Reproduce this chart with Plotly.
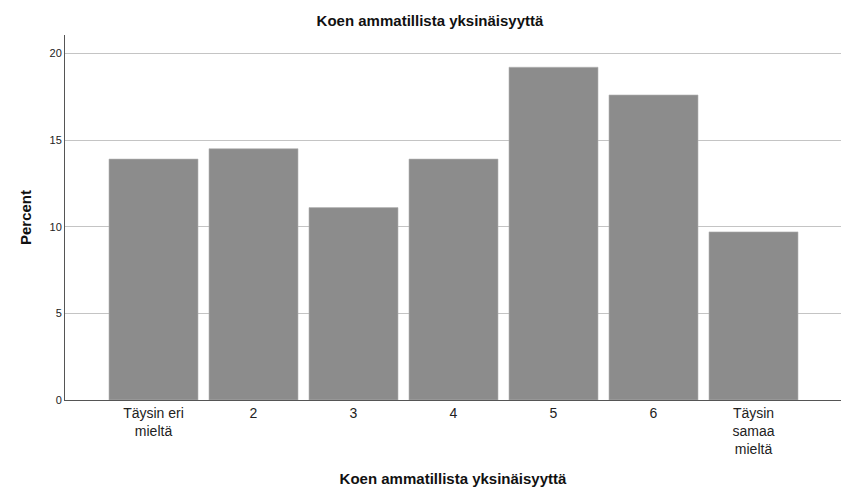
import plotly.graph_objects as go

categories = ["Täysin eri<br>mieltä", "2", "3", "4", "5", "6", "Täysin<br>samaa<br>mieltä"]
percent = [13.9, 14.5, 11.1, 13.9, 19.2, 17.6, 9.7]
y_ticks = [0, 5, 10, 15, 20]

positions = list(range(len(categories)))

fig = go.Figure(data=[go.Bar(x=positions,
                             y=percent,
                             width=0.89,
                             marker=dict(color="#8c8c8c", line=dict(color="#b4b4b4", width=0.6)))])

# the page puts the figure 8px in from the top left corner
fig.update_layout(
    width=844, height=494,
    margin=dict(l=57, r=11, t=27, b=102),
    paper_bgcolor="white", plot_bgcolor="white",
    font=dict(family="Liberation Sans, Arial", color="#222222"),
    title=dict(text="<b>Koen ammatillista yksinäisyyttä</b>", x=0.5, xanchor="center",
               y=0.974, yanchor="middle", font=dict(size=15, color="#111111")),
    showlegend=False,
)

fig.update_xaxes(range=[-0.885, 6.875], tickvals=positions, ticktext=categories,
                 showgrid=False, showline=True, linecolor="#555555", linewidth=1,
                 ticks="", tickfont=dict(size=14, color="#222222"),
                 title=dict(text="<b>Koen ammatillista yksinäisyyttä</b>", standoff=17,
                            font=dict(size=15, color="#111111")),
                 zeroline=False)

fig.update_yaxes(range=[0, 21.06], tickvals=y_ticks, showgrid=True, gridcolor="#c4c4c4",
                 gridwidth=1, showline=True, linecolor="#555555", linewidth=1,
                 ticks="", tickfont=dict(size=11, color="#222222"),
                 title=dict(text="<b>Percent</b>", standoff=14, font=dict(size=15, color="#111111")),
                 zeroline=False)

fig.write_html("out.html")
